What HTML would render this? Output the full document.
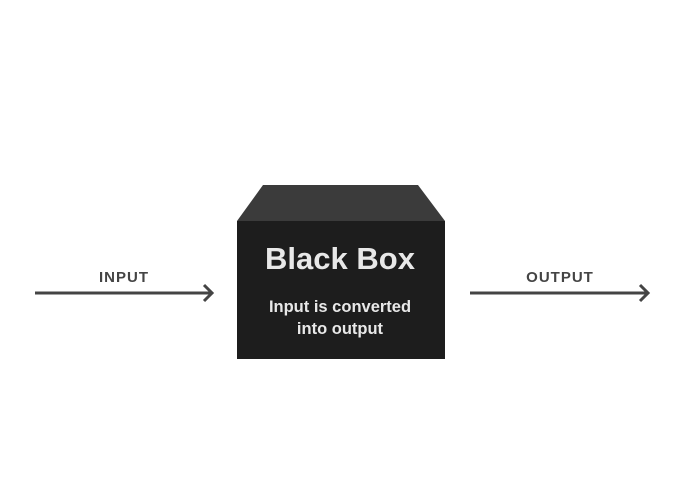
<!DOCTYPE html>
<html><head><style>
html,body{margin:0;padding:0;background:#fff;}
</style></head><body>
<svg width="700" height="500" xmlns="http://www.w3.org/2000/svg" style="display:block">
<rect width="700" height="500" fill="#fff"/>
<polygon points="263,185 418,185 445,221 237,221" fill="#3b3b3b"/>
<rect x="237" y="221" width="208" height="138" fill="#1d1d1d"/>
<text x="340" y="269" text-anchor="middle" font-family="Liberation Sans, sans-serif" font-weight="bold" font-size="31" fill="#e8e8e8">Black Box</text>
<text x="340" y="312" text-anchor="middle" font-family="Liberation Sans, sans-serif" font-weight="bold" font-size="16.5" fill="#e8e8e8">Input is converted</text>
<text x="340" y="334" text-anchor="middle" font-family="Liberation Sans, sans-serif" font-weight="bold" font-size="16.5" fill="#e8e8e8">into output</text>
<g stroke="#444" stroke-width="3" fill="none">
<line x1="35" y1="293" x2="212" y2="293"/>
<polyline points="204,285 212,293 204,301"/>
<line x1="470" y1="293" x2="648" y2="293"/>
<polyline points="640,285 648,293 640,301"/>
</g>
<text x="124" y="282" text-anchor="middle" font-family="Liberation Sans, sans-serif" font-weight="bold" font-size="15" fill="#444" letter-spacing="1">INPUT</text>
<text x="560" y="282" text-anchor="middle" font-family="Liberation Sans, sans-serif" font-weight="bold" font-size="15" fill="#444" letter-spacing="1">OUTPUT</text>
</svg>
</body></html>
